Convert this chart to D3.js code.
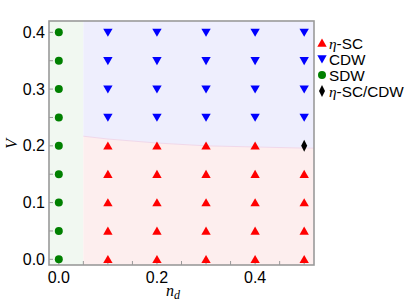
<!DOCTYPE html>
<html><head><meta charset="utf-8">
<script src="https://cdn.jsdelivr.net/npm/d3@7"></script>
<style>body{margin:0;background:#fff}svg{display:block}</style>
</head><body>
<svg id="c" width="408" height="302"></svg>
<script>
const ndVals = [0.1, 0.2, 0.3, 0.4, 0.5];
const vVals = [0, 0.05, 0.1, 0.15, 0.2, 0.25, 0.3, 0.35, 0.4];
const sdwNd = 0.0;
const sdwMax = 0.05;
const boundary = [[0.05,0.217],[0.1,0.212],[0.2,0.205],[0.3,0.2],[0.4,0.198],[0.5,0.196],[0.52,0.196]];
const mixedPoints = [[0.5,0.2]];
const xTicksMajor = [0, 0.2, 0.4];
const yTicksMajor = [0, 0.1, 0.2, 0.3, 0.4];
const legendItems = [["η","-SC","up"],["","CDW","down"],["","SDW","circle"],["η","-SC/CDW","diamond"]];

const svg = d3.select("#c");
const m = {l:49, r:94, t:21, b:37};
const W = 408, H = 302;
const x = d3.scaleLinear().domain([-0.02, 0.52]).range([m.l, W - m.r]);
const y = d3.scaleLinear().domain([-0.01, 0.42]).range([H - m.b, m.t]);
const colors = {up:"#ff0000", down:"#0000ff", circle:"#008000", diamond:"#000000"};
const sans = "Liberation Sans, Arial, sans-serif";
const serif = "Liberation Serif, Times New Roman, serif";

// regions
svg.append("rect").attr("x", x(-0.02)).attr("y", y(0.42)).attr("width", x(sdwMax)-x(-0.02)).attr("height", y(-0.01)-y(0.42)).attr("fill","#f1f8f1");
const area = d3.area().x(d=>x(d[0])).y0(y(-0.01)).y1(d=>y(d[1]));
const areaTop = d3.area().x(d=>x(d[0])).y0(y(0.42)).y1(d=>y(d[1]));
svg.append("path").datum(boundary).attr("d", areaTop).attr("fill","#eeeefd");
svg.append("path").datum(boundary).attr("d", area).attr("fill","#fdeeee");
svg.append("path").datum(boundary).attr("d", d3.line().x(d=>x(d[0])).y(d=>y(d[1]))).attr("fill","none").attr("stroke","#f0d8ea").attr("stroke-width",1);

// ticks inside (bottom and left)
const tg = svg.append("g").attr("stroke","#999").attr("stroke-width",1);
d3.range(0, 0.501, 0.05).forEach(v=>{
  tg.append("line").attr("x1",x(v)).attr("x2",x(v)).attr("y1",y(-0.01)).attr("y2",y(-0.01)-4);
});
d3.range(0, 0.4001, 0.05).forEach(v=>{
  tg.append("line").attr("x1",x(-0.02)).attr("x2",x(-0.02)+4).attr("y1",y(v)).attr("y2",y(v));
});

// frame
svg.append("rect").attr("x",x(-0.02)).attr("y",y(0.42)).attr("width",x(0.52)-x(-0.02)).attr("height",y(-0.01)-y(0.42)).attr("fill","none").attr("stroke","#9a9a9a").attr("stroke-width",1.6);

// tick labels
svg.selectAll(".xl").data(xTicksMajor).join("text").attr("x",d=>x(d)).attr("y",H-m.b+18).attr("text-anchor","middle")
  .attr("font-family",sans).attr("font-size",16).text(d=>d.toFixed(1));
svg.selectAll(".yl").data(yTicksMajor).join("text").attr("x",m.l-4).attr("y",d=>y(d)+5.5).attr("text-anchor","end")
  .attr("font-family",sans).attr("font-size",16).text(d=>d.toFixed(1));

// axis titles
svg.append("text").attr("transform",`translate(17,${y(0.2)-2}) rotate(-90)`).attr("text-anchor","middle")
  .attr("font-family",serif).attr("font-style","italic").attr("font-size",16).text("V");
const xt = svg.append("text").attr("x",173).attr("y",H-6).attr("text-anchor","middle")
  .attr("font-family",serif).attr("font-style","italic").attr("font-size",16);
xt.append("tspan").text("n");
xt.append("tspan").attr("font-size",12).attr("dy",3).text("d");

// markers
const sym = {
  up: d3.symbol().type(d3.symbolTriangle).size(38),
  down: d3.symbol().type(d3.symbolTriangle).size(38),
  circle: d3.symbol().type(d3.symbolCircle).size(50),
};
function diamondPath(){ return "M0,-6L3,0L0,6L-3,0Z"; }
function draw(g, type, px, py){
  if(type==="diamond"){ g.append("path").attr("d",diamondPath()).attr("transform",`translate(${px},${py})`).attr("fill",colors.diamond); return; }
  const p = g.append("path").attr("d",sym[type]()).attr("fill",colors[type]);
  if(type==="down") p.attr("transform",`translate(${px},${py-1}) rotate(180)`);
  else if(type==="up") p.attr("transform",`translate(${px},${py+1})`);
  else p.attr("transform",`translate(${px},${py})`);
}
const mg = svg.append("g");
vVals.forEach(v=>draw(mg,"circle",x(sdwNd),y(v)));
ndVals.forEach(n=>vVals.forEach(v=>{
  if(mixedPoints.some(p=>p[0]===n&&p[1]===v)) return;
  draw(mg, v<=0.2?"up":"down", x(n), y(v));
}));
mixedPoints.forEach(p=>draw(mg,"diamond",x(p[0]),y(p[1])));

// legend
legendItems.forEach((it,i)=>{
  const ly = 43 + i*16;
  draw(svg, it[2], 322, ly);
  const t = svg.append("text").attr("x",329).attr("y",ly+5.5).attr("font-family",sans).attr("font-size",15.3);
  if(it[0]) t.append("tspan").attr("font-family",serif).attr("font-style","italic").text(it[0]);
  t.append("tspan").text(it[1]);
});
</script>
</body></html>
